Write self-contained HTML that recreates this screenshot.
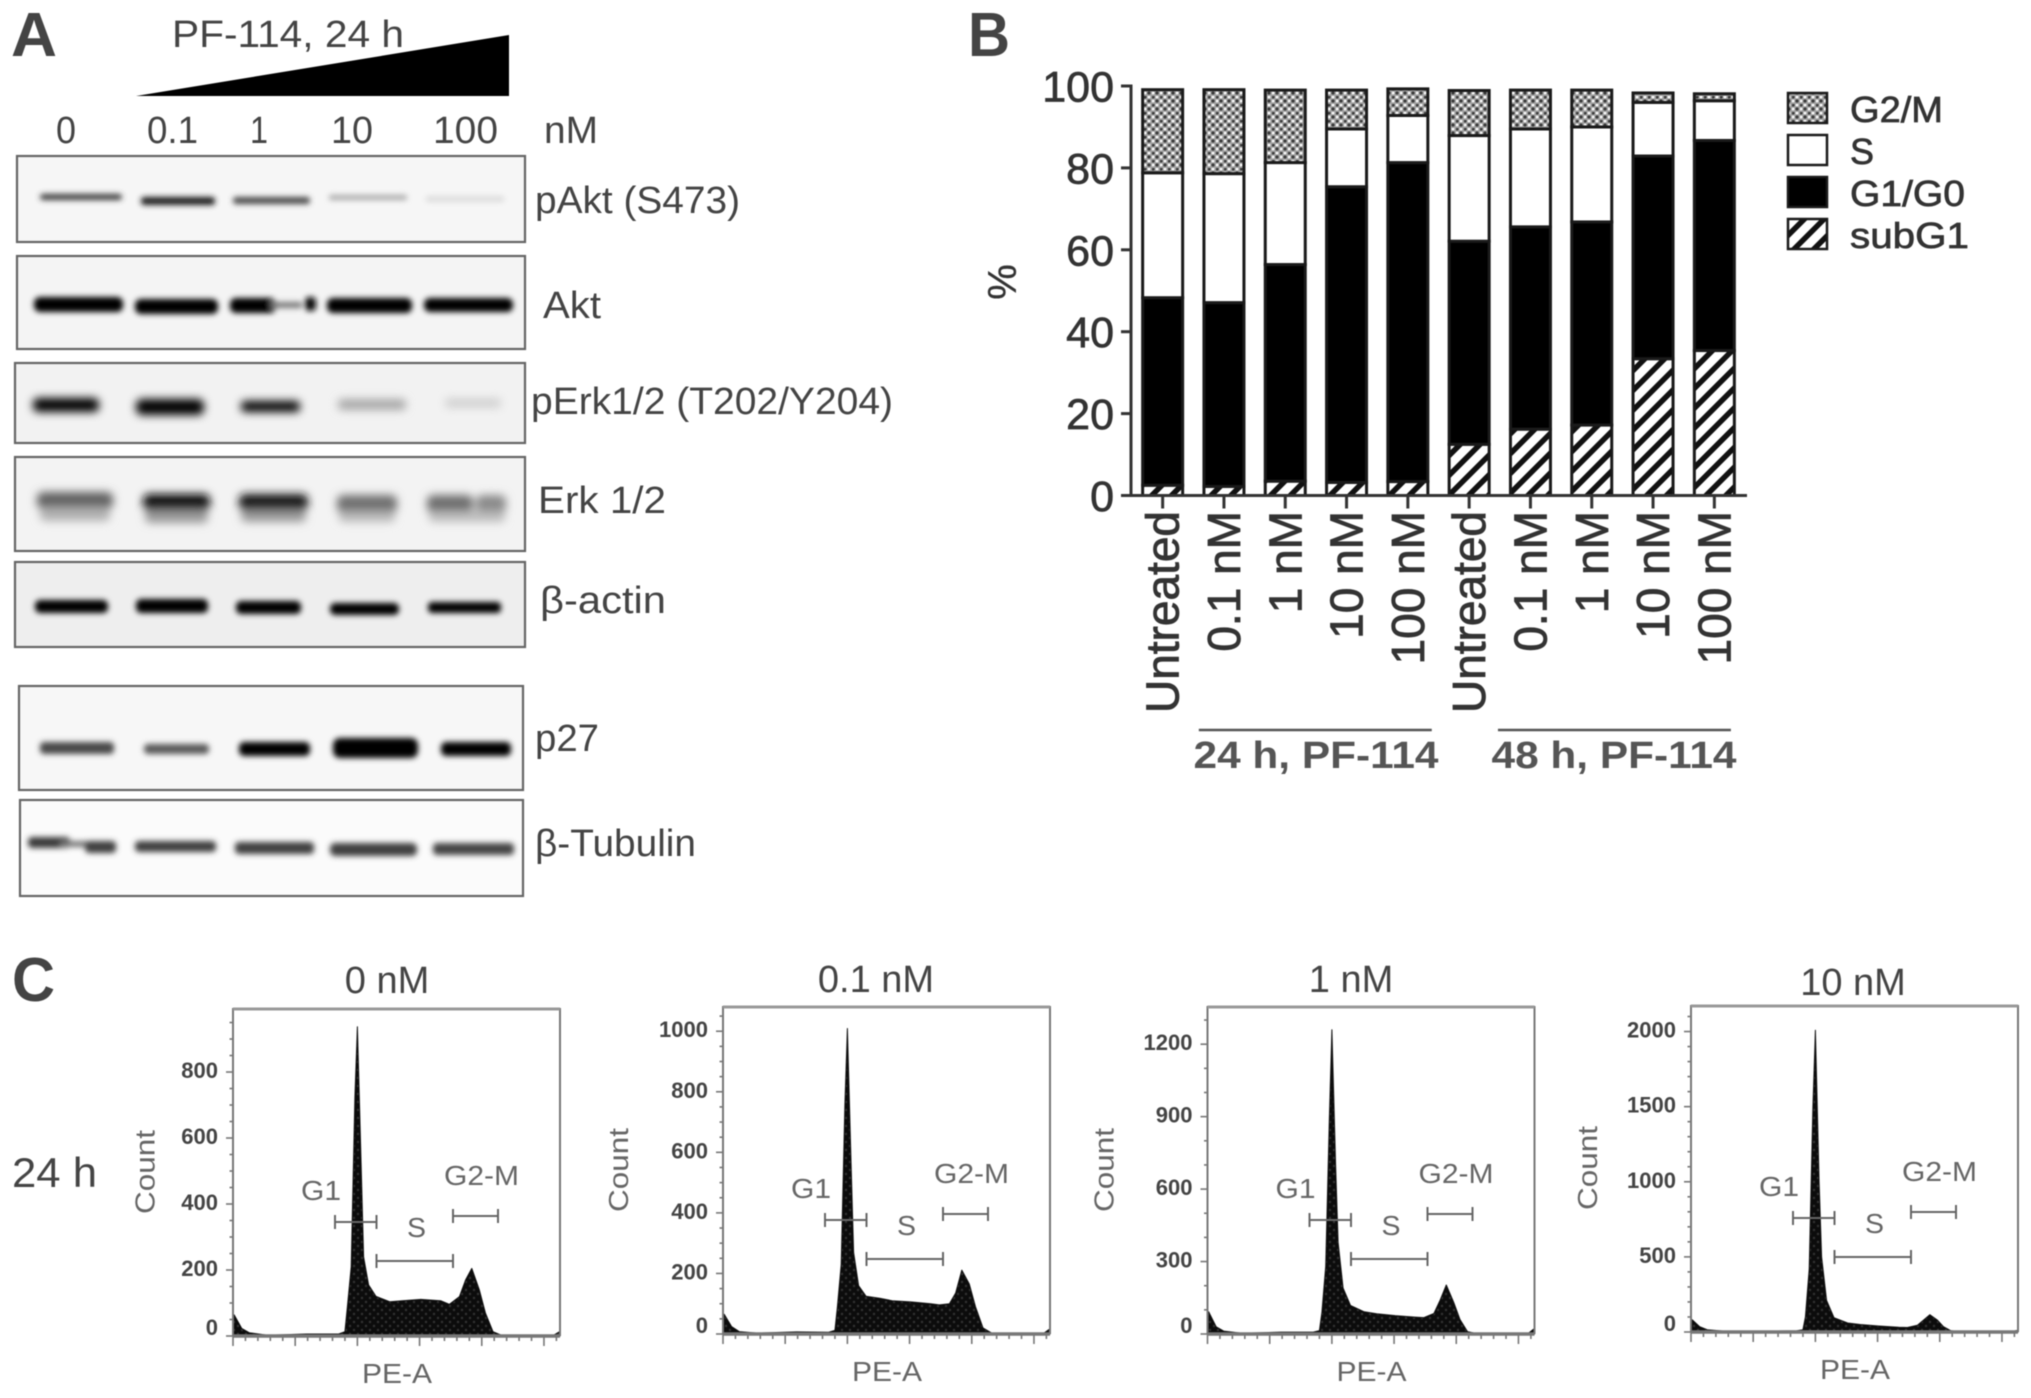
<!DOCTYPE html>
<html lang="en">
<head>
<meta charset="utf-8">
<title>PF-114 western blots, cell cycle distribution and flow cytometry</title>
<style>
html,body{margin:0;padding:0;background:#fff;width:2031px;height:1398px;overflow:hidden}
svg{display:block;filter:blur(0.55px)}
text{font-family:"Liberation Sans",sans-serif}
.lbl{font-size:38px;fill:#444}
.letter{font-size:62px;font-weight:bold;fill:#444}
.blot{stroke:#666;stroke-width:2.2}
</style>
</head>
<body>
<svg id="figure" xmlns="http://www.w3.org/2000/svg" width="2031" height="1398" viewBox="0 0 2031 1398">
  <defs>
    <filter id="b2" x="-20%" y="-150%" width="140%" height="400%"><feGaussianBlur stdDeviation="2.8"/></filter>
    <filter id="b3" x="-20%" y="-150%" width="140%" height="400%"><feGaussianBlur stdDeviation="4.5"/></filter>
    <pattern id="dots" patternUnits="userSpaceOnUse" width="8" height="8">
      <rect width="8" height="8" fill="#a2a2a2"/>
      <circle cx="1" cy="1" r="1.6" fill="#3a3a3a"/><circle cx="5" cy="5" r="1.6" fill="#3a3a3a"/>
      <circle cx="5" cy="1" r="1.4" fill="#fff"/><circle cx="1" cy="5" r="1.4" fill="#fff"/>
    </pattern>
    <pattern id="hatch" patternUnits="userSpaceOnUse" width="14" height="14" patternTransform="rotate(45)">
      <rect width="14" height="14" fill="#fff"/><rect width="5.5" height="14" fill="#111"/>
    </pattern>
    <pattern id="histfill" patternUnits="userSpaceOnUse" width="8" height="8">
      <rect width="8" height="8" fill="#0c0c0c"/>
      <circle cx="2" cy="2" r="1.2" fill="#333"/><circle cx="6" cy="6" r="1.2" fill="#333"/>
    </pattern>
  </defs>

  <g id="panel-a">
    <text class="letter" x="11" y="56" textLength="46" lengthAdjust="spacingAndGlyphs">A</text>
    <text class="lbl" x="172" y="47" textLength="232" lengthAdjust="spacingAndGlyphs">PF-114, 24 h</text>
    <polygon points="136,96 509,96 509,35" fill="#000"/>
    <g>
      <text class="lbl" x="56" y="143" textLength="20" lengthAdjust="spacingAndGlyphs">0</text>
      <text class="lbl" x="147" y="143" textLength="51" lengthAdjust="spacingAndGlyphs">0.1</text>
      <text class="lbl" x="250" y="143" textLength="18" lengthAdjust="spacingAndGlyphs">1</text>
      <text class="lbl" x="331" y="143" textLength="42" lengthAdjust="spacingAndGlyphs">10</text>
      <text class="lbl" x="433" y="143" textLength="65" lengthAdjust="spacingAndGlyphs">100</text>
      <text class="lbl" x="544" y="143" textLength="54" lengthAdjust="spacingAndGlyphs">nM</text>
    </g>

    <g>
      <rect class="blot" x="17" y="156" width="508" height="86" fill="#f6f6f6"/>
      <g filter="url(#b2)">
        <rect x="40" y="194" width="82" height="6" rx="3" fill="#3a3a3a"/>
        <rect x="141" y="197" width="74" height="8" rx="3" fill="#1c1c1c"/>
        <rect x="233" y="197" width="77" height="7" rx="3" fill="#484848"/>
        <rect x="329" y="195" width="78" height="5" rx="2" fill="#a8a8a8"/>
        <rect x="426" y="196" width="78" height="6" rx="2" fill="#dcdcdc"/>
      </g>
      <text class="lbl" x="535" y="213" textLength="205" lengthAdjust="spacingAndGlyphs">pAkt (S473)</text>
    </g>

    <g>
      <rect class="blot" x="17" y="256" width="508" height="93" fill="#f4f4f4"/>
      <g filter="url(#b2)">
        <rect x="34" y="297" width="89" height="15" rx="6" fill="#000"/>
        <rect x="135" y="299" width="83" height="15" rx="6" fill="#000"/>
        <rect x="230" y="298" width="46" height="15" rx="6" fill="#050505"/>
        <rect x="270" y="302" width="32" height="6" rx="2" fill="#777"/>
        <rect x="305" y="297" width="11" height="14" rx="4" fill="#111"/>
        <rect x="327" y="298" width="85" height="15" rx="6" fill="#000"/>
        <rect x="424" y="298" width="89" height="14" rx="6" fill="#000"/>
      </g>
      <text class="lbl" x="543" y="318" textLength="58" lengthAdjust="spacingAndGlyphs">Akt</text>
    </g>

    <g>
      <rect class="blot" x="15" y="363" width="510" height="80" fill="#f2f2f2"/>
      <g filter="url(#b3)">
        <rect x="33" y="398" width="66" height="14" rx="5" fill="#000"/>
        <rect x="136" y="399" width="68" height="16" rx="6" fill="#000"/>
        <rect x="241" y="401" width="59" height="11" rx="4" fill="#000"/>
        <rect x="338" y="399" width="68" height="11" rx="4" fill="#a8a8a8"/>
        <rect x="445" y="398" width="56" height="10" rx="3" fill="#d2d2d2"/>
      </g>
      <text class="lbl" x="531" y="414" textLength="362" lengthAdjust="spacingAndGlyphs">pErk1/2 (T202/Y204)</text>
    </g>

    <g>
      <rect class="blot" x="15" y="457" width="510" height="94" fill="#f3f3f3"/>
      <g filter="url(#b3)">
        <rect x="37" y="492" width="76" height="17" rx="6" fill="#606060"/>
        <rect x="40" y="507" width="70" height="14" rx="5" fill="#b0b0b0"/>
        <rect x="143" y="494" width="67" height="17" rx="6" fill="#111"/>
        <rect x="145" y="510" width="63" height="13" rx="5" fill="#999"/>
        <rect x="239" y="494" width="69" height="17" rx="6" fill="#151515"/>
        <rect x="241" y="510" width="65" height="12" rx="5" fill="#999"/>
        <rect x="337" y="495" width="60" height="18" rx="6" fill="#707070"/>
        <rect x="339" y="511" width="56" height="11" rx="4" fill="#b8b8b8"/>
        <rect x="427" y="495" width="46" height="18" rx="6" fill="#6e6e6e"/>
        <rect x="476" y="495" width="30" height="18" rx="6" fill="#8a8a8a"/>
        <rect x="429" y="511" width="76" height="11" rx="4" fill="#bcbcbc"/>
      </g>
      <text class="lbl" x="538" y="513" textLength="128" lengthAdjust="spacingAndGlyphs">Erk 1/2</text>
    </g>

    <g>
      <rect class="blot" x="15" y="562" width="510" height="85" fill="#eeeeee"/>
      <g filter="url(#b2)">
        <rect x="35" y="600" width="73" height="13" rx="5" fill="#000"/>
        <rect x="136" y="599" width="72" height="14" rx="5" fill="#000"/>
        <rect x="236" y="601" width="65" height="13" rx="5" fill="#000"/>
        <rect x="330" y="603" width="69" height="12" rx="5" fill="#000"/>
        <rect x="428" y="602" width="73" height="11" rx="4" fill="#000"/>
      </g>
      <text class="lbl" x="540" y="613" textLength="126" lengthAdjust="spacingAndGlyphs">β-actin</text>
    </g>

    <g>
      <rect class="blot" x="19" y="686" width="504" height="104" fill="#f7f7f7"/>
      <g filter="url(#b2)">
        <rect x="40" y="742" width="74" height="12" rx="4" fill="#4a4a4a"/>
        <rect x="144" y="744" width="65" height="10" rx="4" fill="#585858"/>
        <rect x="239" y="742" width="71" height="14" rx="5" fill="#000"/>
        <rect x="333" y="738" width="85" height="20" rx="7" fill="#000"/>
        <rect x="441" y="742" width="70" height="14" rx="5" fill="#000"/>
      </g>
      <text class="lbl" x="535" y="751" textLength="64" lengthAdjust="spacingAndGlyphs">p27</text>
    </g>

    <g>
      <rect class="blot" x="20" y="800" width="503" height="96" fill="#fbfbfb"/>
      <g filter="url(#b2)">
        <rect x="28" y="837" width="42" height="11" rx="4" fill="#3a3a3a"/>
        <rect x="60" y="841" width="30" height="6" rx="2" fill="#777"/>
        <rect x="85" y="841" width="31" height="12" rx="4" fill="#404040"/>
        <rect x="135" y="841" width="81" height="11" rx="4" fill="#404040"/>
        <rect x="235" y="842" width="79" height="12" rx="4" fill="#404040"/>
        <rect x="330" y="843" width="87" height="13" rx="5" fill="#404040"/>
        <rect x="433" y="843" width="81" height="12" rx="4" fill="#444"/>
      </g>
      <text class="lbl" x="535" y="856" textLength="161" lengthAdjust="spacingAndGlyphs">β-Tubulin</text>
    </g>
  </g>

  <g id="panel-b">
    <text class="letter" x="968" y="56" textLength="42" lengthAdjust="spacingAndGlyphs">B</text>
    <text x="1016" y="282" text-anchor="middle" transform="rotate(-90 1016 282)" style="font-size:40px;fill:#333;stroke:#333;stroke-width:0.4">%</text>
  </g>

  <g id="panel-c">
    <text class="letter" x="12" y="1001" textLength="43" lengthAdjust="spacingAndGlyphs">C</text>
    <text class="lbl" x="12" y="1187" style="font-size:42px" textLength="85" lengthAdjust="spacingAndGlyphs">24 h</text>
  </g>
</svg>

<script>
/* ---------- Panel B data ---------- */
const barCategories = ["Untreated","0.1 nM","1 nM","10 nM","100 nM","Untreated","0.1 nM","1 nM","10 nM","100 nM"];
const subG1Values = [2.5,2.2,3.5,3.2,3.4,12.5,16.2,17.2,33.4,35.4];
const g1g0Values = [45.8,44.9,52.9,72.2,77.9,49.6,49.4,49.6,49.5,51.3];
const sValues = [30.5,31.5,24.9,14.1,11.5,25.8,23.9,23.2,13.1,9.7];
const g2mValues = [20.3,20.5,17.7,9.5,6.5,11,9.5,9,2.3,1.7];
const percentTicks = [0,20,40,60,80,100];
const legendLabels = ["G2/M","S","G1/G0","subG1"];
const groupLabels = ["24 h, PF-114","48 h, PF-114"];

/* ---------- Panel C data ---------- */
const binK = [0,1,7,13,28,59,85,90,92,95,98,100,103,105,109,115,126,136,151,167,174,182,187,192,198,203,209,216,258,262];
const counts0nM = [30,64,23,10,2,6,6,13,89,210,725,937,523,240,155,120,104,107,111,107,96,119,170,205,140,69,13,2,3,12];
const counts01nM = [30,65,24,8,3,7,6,12,90,230,760,1009,560,270,160,125,118,110,106,100,96,100,135,211,165,90,20,3,3,15];
const counts1nM = [40,92,30,12,3,8,8,14,90,280,900,1260,700,380,190,118,92,84,76,70,68,85,140,203,130,60,10,2,3,20];
const counts10nM = [40,82,35,15,5,6,8,15,100,420,1500,2009,1000,500,210,95,60,50,40,32,30,45,80,115,80,35,8,3,3,10];
const yTicks0nM = [0,200,400,600,800];
const yTicks01nM = [0,200,400,600,800,1000];
const yTicks1nM = [0,300,600,900,1200];
const yTicks10nM = [0,500,1000,1500,2000];
const xMajorTicks = [0,50,100,150,200,250];
const plotTitles = ["0 nM","0.1 nM","1 nM","10 nM"];

const SVGNS = "http://www.w3.org/2000/svg";
function mk(tag, attrs, parent, txt){
  const n = document.createElementNS(SVGNS, tag);
  for (const k in attrs) n.setAttribute(k, attrs[k]);
  if (txt !== undefined) n.textContent = txt;
  parent.appendChild(n);
  return n;
}

/* ---------- Panel B ---------- */
(function(){
  const root = document.getElementById("panel-b");
  const axisX = 1131, x0 = 1132, step = 61.3, barW = 40;
  const y100 = 86, y0 = 495.5;
  const xC = i => x0 + (i + 0.5) * step;
  const yP = v => y0 - (v / 100) * (y0 - y100);

  const series = [
    {name:"subg1", values:subG1Values, fill:"url(#hatch)"},
    {name:"g1-g0", values:g1g0Values, fill:"#000"},
    {name:"s", values:sValues, fill:"#fff"},
    {name:"g2-m", values:g2mValues, fill:"url(#dots)"}
  ];
  barCategories.forEach((cat, i) => {
    let base = 0;
    series.forEach(s => {
      const top = base + s.values[i];
      const r = mk("rect", {x:xC(i)-barW/2, y:yP(top), width:barW, height:yP(base)-yP(top), fill:s.fill, stroke:"#1a1a1a", "stroke-width":3}, root);
      
      
      base = top;
    });
    const t = mk("line", {x1:xC(i), x2:xC(i), y1:y0, y2:y0+13, stroke:"#333", "stroke-width":3}, root);
    
    
    const bx = xC(i) + 16, by = 511;
    const lab = mk("text", {x:bx, y:by, transform:"rotate(-90 "+bx+" "+by+")", "text-anchor":"end", style:"font-size:46px;fill:#333;stroke:#333;stroke-width:0.8"}, root, cat);
    
    
  });

  const yAxis = mk("line", {x1:axisX, x2:axisX, y1:y100-1.5, y2:y0+1.5, stroke:"#333", "stroke-width":3}, root);
  
  
  const xAxis = mk("line", {x1:1121, x2:1747, y1:y0, y2:y0, stroke:"#333", "stroke-width":3}, root);
  
  

  percentTicks.forEach(v => {
    const t = mk("line", {x1:1121, x2:axisX, y1:yP(v), y2:yP(v), stroke:"#333", "stroke-width":3}, root);
    
    
    const l = mk("text", {x:1114, y:yP(v)+15.5, "text-anchor":"end", style:"font-size:43px;fill:#333;stroke:#333;stroke-width:0.7"}, root, v);
    
    
  });

  const groupSpans = [[1.09,4.89],[5.97,9.77]];
  const groupLabelX = [1316,1614];
  groupLabels.forEach((g, i) => {
    const a = x0 + groupSpans[i][0]*step, b = x0 + groupSpans[i][1]*step;
    const ln = mk("line", {x1:a, x2:b, y1:730, y2:730, stroke:"#555", "stroke-width":2.5}, root);
    
    
    const tx = mk("text", {x:groupLabelX[i], y:768, "text-anchor":"middle", textLength:245, lengthAdjust:"spacingAndGlyphs", style:"font-size:38px;font-weight:bold;fill:#555"}, root, g);
    
    
  });

  const legendFills = ["url(#dots)","#fff","#000","url(#hatch)"];
  const legendWidths = [93,24,115,119];
  legendLabels.forEach((name, i) => {
    const y = 93 + i * 42;
    const sw = mk("rect", {x:1788, y:y, width:39, height:30, fill:legendFills[i], stroke:"#1a1a1a", "stroke-width":2.5}, root);
    
    
    const lb = mk("text", {x:1850, y:y+29, textLength:legendWidths[i], lengthAdjust:"spacingAndGlyphs", style:"font-size:36px;fill:#333;stroke:#333;stroke-width:0.7"}, root, name);
    
    
  });
})();

/* ---------- Panel C ---------- */
(function(){
  const root = document.getElementById("panel-c");
  const xMaxK = 262.9;
  const plots = [
    {left:233, top:1009, bottom:1336, yMax:991, counts:counts0nM, ticks:yTicks0nM, minor:50, titleX:387, titleY:993, countDx:-78.5},
    {left:723, top:1007, bottom:1334, yMax:1080, counts:counts01nM, ticks:yTicks01nM, minor:50, titleX:876, titleY:992, countDx:-95},
    {left:1207.5, top:1007, bottom:1334, yMax:1354, counts:counts1nM, ticks:yTicks1nM, minor:100, titleX:1351, titleY:992, countDx:-94},
    {left:1691, top:1006, bottom:1332, yMax:2170, counts:counts10nM, ticks:yTicks10nM, minor:100, titleX:1853, titleY:995, countDx:-94}
  ];
  const W = 327;
  const gray = "#777";

  plots.forEach((p, idx) => {
    const g = mk("g", {}, root);
    
    
    const sx = k => p.left + (k / xMaxK) * W;
    const sy = v => p.bottom - (v / p.yMax) * (p.bottom - p.top);

    const title = mk("text", {x:p.titleX, y:p.titleY, "text-anchor":"middle", style:"font-size:38px;fill:#444"}, g, plotTitles[idx]);
    
    

    const pts = binK.map((k, i) => sx(k).toFixed(1) + "," + sy(p.counts[i]).toFixed(1));
    const area = mk("polygon", {points: sx(0) + "," + p.bottom + " " + pts.join(" ") + " " + (p.left + W) + "," + p.bottom, fill:"url(#histfill)", stroke:"#111", "stroke-width":1, "stroke-linejoin":"round"}, g);
    
    

    const frame = mk("path", {d:"M"+p.left+" "+p.bottom+"V"+p.top+"H"+(p.left+W)+"V"+p.bottom, fill:"none", stroke:gray, "stroke-width":2}, g);
    
    
    const topLine = mk("line", {x1:p.left, x2:p.left+W, y1:p.top, y2:p.top, stroke:"#999", "stroke-width":3}, g);
    
    
    const base = mk("line", {x1:p.left, x2:p.left+W, y1:p.bottom, y2:p.bottom, stroke:gray, "stroke-width":3.5}, g);
    
    

    for (let k = 0; k <= 260; k += 10) {
      const major = xMajorTicks.indexOf(k) >= 0;
      const t = mk("line", {x1:sx(k), x2:sx(k), y1:p.bottom, y2:p.bottom + (major ? 10 : 5), stroke:gray, "stroke-width":1.6}, g);
      
      
    }
    for (let v = 0; sy(v) > p.top; v += p.minor) {
      const major = p.ticks.indexOf(v) >= 0;
      const t = mk("line", {x1:p.left - (major ? 7 : 3.5), x2:p.left, y1:sy(v), y2:sy(v), stroke:gray, "stroke-width":1.6}, g);
      
      
    }
    p.ticks.forEach(v => {
      const l = mk("text", {x:p.left - 15, y:sy(v) + (v === 0 ? -1 : 6), "text-anchor":"end", style:"font-size:22px;font-weight:bold;fill:#444"}, g, v);
      
      
    });

    const gates = [
      {name:"g1", a:p.left+102, b:p.left+143.5, dy:114},
      {name:"s", a:p.left+143.5, b:p.left+220, dy:75},
      {name:"g2-m", a:p.left+220, b:p.left+265, dy:120}
    ];
    gates.forEach(q => {
      const y = p.bottom - q.dy;
      const gp = mk("path", {d:"M"+q.a+" "+(y-7)+"V"+(y+7)+"M"+q.a+" "+y+"H"+q.b+"M"+q.b+" "+(y-7)+"V"+(y+7), fill:"none", stroke:"#666", "stroke-width":2}, g);
      
      
    });
    const g1Text = mk("text", {x:p.left+68, y:p.bottom-136, textLength:40, lengthAdjust:"spacingAndGlyphs", style:"font-size:28px;fill:#666"}, g, "G1");
    
    
    const sText = mk("text", {x:p.left+174, y:p.bottom-99, textLength:19, lengthAdjust:"spacingAndGlyphs", style:"font-size:28px;fill:#666"}, g, "S");
    
    
    const g2Text = mk("text", {x:p.left+211, y:p.bottom-151, textLength:75, lengthAdjust:"spacingAndGlyphs", style:"font-size:28px;fill:#666"}, g, "G2-M");
    
    

    const xTitle = mk("text", {x:p.left+129, y:p.bottom+47, textLength:70, lengthAdjust:"spacingAndGlyphs", style:"font-size:28px;fill:#666"}, g, "PE-A");
    
    
    const cx = p.left + p.countDx, cy = p.bottom - 164;
    const yTitle = mk("text", {x:cx, y:cy, "text-anchor":"middle", transform:"rotate(-90 "+cx+" "+cy+")", textLength:84, lengthAdjust:"spacingAndGlyphs", style:"font-size:28px;fill:#666"}, g, "Count");
    
    
  });
})();
</script>
</body>
</html>
